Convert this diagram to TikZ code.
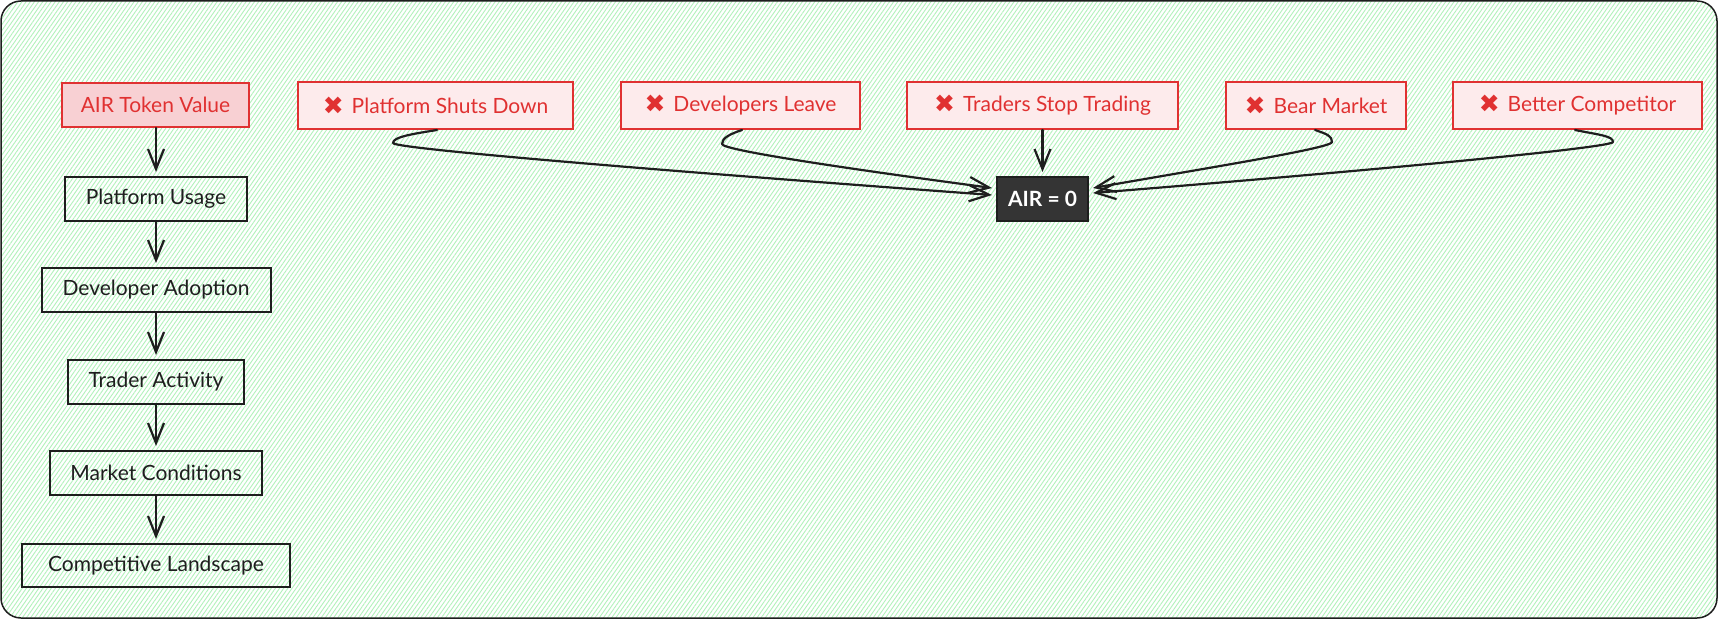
\documentclass[tikz,border=0pt]{standalone}
\usepackage{fontspec}
\setmainfont{Lato}
\newfontfamily\symfam{DejaVu Sans}
\usetikzlibrary{arrows.meta,patterns.meta,calc}
\definecolor{ink}{HTML}{1E1E1E}
\definecolor{redline}{HTML}{E03131}
\definecolor{redtext}{HTML}{E03131}
\definecolor{pinkA}{HTML}{F8D0D3}
\definecolor{pinkB}{HTML}{FDEBEC}
\definecolor{hatchgreen}{HTML}{B2F2BB}
\definecolor{darkbox}{HTML}{343434}
\newcommand\failx{{\symfam\fontsize{25}{26}\selectfont\raisebox{-1pt}{\char"2716}}\hspace{8pt}}
\begin{document}
\begin{tikzpicture}[x=1pt,y=-1pt,
  every node/.style={font=\fontsize{21}{24}\selectfont, inner sep=0pt},
  plainbox/.style={draw=ink, line width=2pt, minimum height=44pt, text=ink},
  rootbox/.style={draw=redline, fill=pinkA, line width=2pt, minimum height=44pt, text=redtext},
  failbox/.style={draw=redline, fill=pinkB, line width=2pt, minimum height=47pt, text=redtext},
  zerobox/.style={draw=ink, fill=darkbox, line width=2pt, minimum width=91pt, minimum height=44pt, text=white, font=\fontsize{21}{24}\selectfont\bfseries},
  conn/.style={draw=ink, line width=2.2pt, -{Straight Barb[length=20pt,width=16pt]}, line cap=round, line join=round}
]
\useasboundingbox (0,0) rectangle (1720,620);
\fill[white, rounded corners=20pt] (1,1) rectangle (1717,618);
\fill[pattern={Lines[angle=55,distance=3.4pt,line width=0.9pt]}, pattern color=hatchgreen, rounded corners=20pt] (1,1) rectangle (1717,618);
\draw[ink, line width=1.5pt, rounded corners=20pt] (1,1) rectangle (1717,618);

% left column
\node[rootbox, minimum width=187pt] (atv) at (155.5,105) {AIR Token Value};
\node[plainbox, minimum width=182pt] (pu) at (156,199) {Platform Usage};
\node[plainbox, minimum width=229pt] (da) at (156,290) {Developer Adoption};
\node[plainbox, minimum width=176pt] (ta) at (156,382) {Trader Activity};
\node[plainbox, minimum width=212pt] (mc) at (156,473) {Market Conditions};
\node[plainbox, minimum width=268pt, minimum height=43pt] (cl) at (156,565.5) {Competitive Landscape};

% top row
\node[failbox, minimum width=275pt] (psd) at (435.5,105.5) {\failx Platform Shuts Down};
\node[failbox, minimum width=239pt] (dl) at (740.5,105.5) {\failx Developers Leave};
\node[failbox, minimum width=271pt] (tst) at (1042.5,105.5) {\failx Traders Stop Trading};
\node[failbox, minimum width=180pt] (bm) at (1316,105.5) {\failx Bear Market};
\node[failbox, minimum width=249pt] (bc) at (1577.5,105.5) {\failx Better Competitor};
\node[zerobox] (air) at (1042.5,199) {AIR = 0};

% left column arrows
\draw[conn, shorten >=4pt] (atv.south -| pu.north) -- (pu.north);
\draw[conn, shorten >=4pt] (pu.south) -- (da.north);
\draw[conn, shorten >=4pt] (da.south) -- (ta.north);
\draw[conn, shorten >=4pt] (ta.south) -- (mc.north);
\draw[conn, shorten >=4pt] (mc.south) -- (cl.north);

% failure arrows
\coordinate (psdL) at (393,143);
\coordinate (dlL) at (722,144);
\coordinate (bmR) at (1332,142);
\coordinate (bcR) at (1613,142);

\draw[conn] ($(psd.south)+(1.5,0)$) .. controls +(-25,4) and +(0,-6) .. (psdL)
  .. controls +(0,6) and +(-300,-22) .. ($(air.west)+(-4,-4)$);
\draw[conn] ($(dl.south)+(1.5,0)$) .. controls +(-12,4) and +(0,-6) .. (dlL)
  .. controls +(0,6) and +(-150,-20) .. ($(air.west)+(-4,-11)$);
\draw[conn, shorten >=4pt] (tst.south) -- (air.north);
\draw[conn] ($(bm.south)+(-1,0)$) .. controls +(12,4) and +(0,-6) .. (bmR)
  .. controls +(0,6) and +(120,-21) .. ($(air.east)+(4,-11)$);
\draw[conn] ($(bc.south)+(-2.5,0)$) .. controls +(25,5) and +(0,-6) .. (bcR)
  .. controls +(0,6) and +(250,-20) .. ($(air.east)+(4,-6)$);
\end{tikzpicture}
\end{document}
